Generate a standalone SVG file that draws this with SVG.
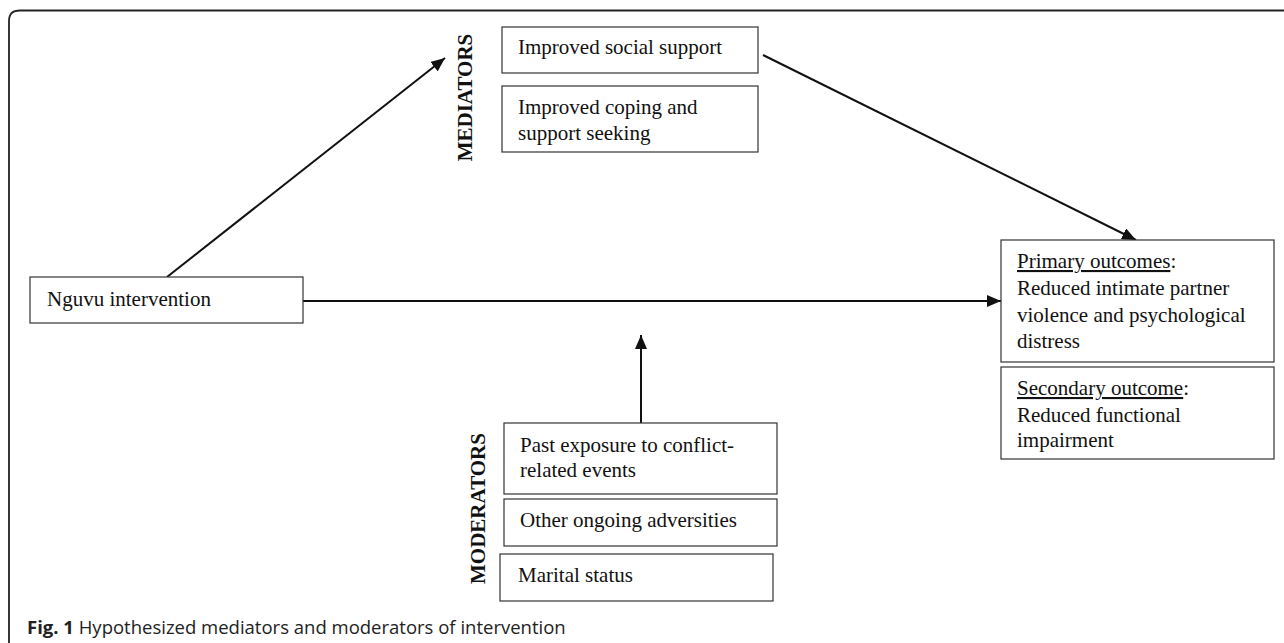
<svg xmlns="http://www.w3.org/2000/svg" width="1284" height="643" viewBox="0 0 1284 643">
<style>
.box{fill:#fff;stroke:#333;stroke-width:1.2}
.t{font-family:"Liberation Serif","Times New Roman",serif;font-size:21px;fill:#111}
.v{font-family:"Liberation Serif","Times New Roman",serif;font-size:21px;font-weight:bold;fill:#111}
.c{stroke:#111;stroke-width:2;fill:none}
.u{text-decoration:underline}
.cap{font-family:"Open Sans","Noto Sans",sans-serif;font-size:18.5px;fill:#222}
</style>
<defs>
<marker id="ah" viewBox="0 0 14 12" refX="14" refY="6" markerWidth="14" markerHeight="12" markerUnits="userSpaceOnUse" orient="auto">
<path d="M0,0 L14,6 L0,12 Z" fill="#111"/>
</marker>
</defs>
<rect width="1284" height="643" fill="#fff"/>
<path d="M9,643 L9,21 Q9,10.5 20,10.5 L1284,10.5" fill="none" stroke="#222" stroke-width="1.8"/>
<g id="connectors">
<line class="c" x1="167" y1="277" x2="445" y2="58" marker-end="url(#ah)"/>
<line class="c" x1="763" y1="55" x2="1136" y2="240" marker-end="url(#ah)"/>
<line class="c" x1="303" y1="301" x2="1001" y2="301" marker-end="url(#ah)"/>
<line class="c" x1="641" y1="423" x2="641" y2="335" marker-end="url(#ah)"/>
</g>
<g id="nguvu">
<rect class="box" x="30" y="277" width="273" height="46"/>
<text class="t" x="47" y="306">Nguvu intervention</text>
</g>
<g id="mediators-label">
<text class="v" transform="translate(472,97.5) rotate(-90)" text-anchor="middle">MEDIATORS</text>
</g>
<g id="social-support">
<rect class="box" x="502" y="27" width="256" height="46"/>
<text class="t" x="518" y="54">Improved social support</text>
</g>
<g id="coping">
<rect class="box" x="502" y="86" width="256" height="66"/>
<text class="t" x="518" y="114">Improved coping and</text>
<text class="t" x="518" y="140">support seeking</text>
</g>
<g id="primary">
<rect class="box" x="1001" y="240" width="273" height="122"/>
<text class="t" x="1017" y="268"><tspan class="u">Primary outcomes</tspan>:</text>
<text class="t" x="1017" y="295">Reduced intimate partner</text>
<text class="t" x="1017" y="322">violence and psychological</text>
<text class="t" x="1017" y="348">distress</text>
</g>
<g id="secondary">
<rect class="box" x="1001" y="367" width="273" height="92"/>
<text class="t" x="1017" y="395"><tspan class="u">Secondary outcome</tspan>:</text>
<text class="t" x="1017" y="422">Reduced functional</text>
<text class="t" x="1017" y="447">impairment</text>
</g>
<g id="moderators-label">
<text class="v" transform="translate(485,508.5) rotate(-90)" text-anchor="middle">MODERATORS</text>
</g>
<g id="past-exposure">
<rect class="box" x="504" y="423" width="273" height="71"/>
<text class="t" x="520" y="452">Past exposure to conflict-</text>
<text class="t" x="520" y="477">related events</text>
</g>
<g id="adversities">
<rect class="box" x="504" y="499" width="273" height="47"/>
<text class="t" x="520" y="527">Other ongoing adversities</text>
</g>
<g id="marital">
<rect class="box" x="500" y="554" width="273" height="47"/>
<text class="t" x="518" y="582">Marital status</text>
</g>
<text class="cap" x="27" y="634"><tspan font-weight="bold">Fig. 1</tspan> Hypothesized mediators and moderators of intervention</text>
</svg>
